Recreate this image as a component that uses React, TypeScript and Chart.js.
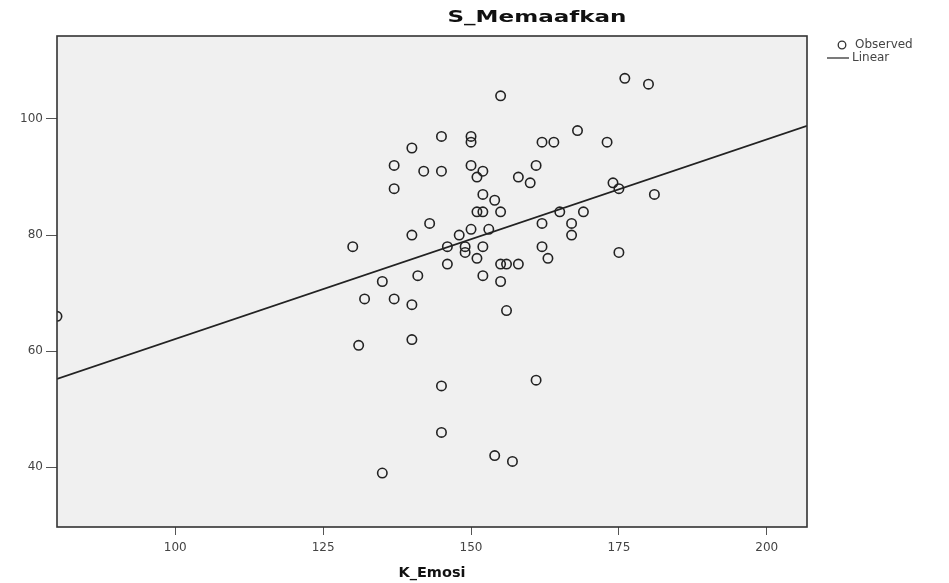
import React, { useEffect, useRef } from "react";
import { Chart, registerables } from "chart.js";

Chart.register(...registerables);

// K_Emosi (x) values of the observed points
const kEmosi = [
  80, 176, 180, 155, 168, 145, 150, 150, 140, 162, 164, 173,
  137, 142, 145, 150, 152, 151, 161, 158, 160, 137, 174, 175,
  181, 152, 154, 151, 152, 155, 165, 169, 143, 162, 167, 167,
  140, 148, 150, 153, 130, 146, 149, 152, 162, 149, 151, 163,
  175, 146, 155, 156, 158, 141, 152, 135, 155, 132, 137, 140,
  156, 131, 140, 161, 145, 145, 154, 157, 135,
];
// S_Memaafkan (y) values of the observed points
const sMemaafkan = [
  66, 107, 106, 104, 98, 97, 97, 96, 95, 96, 96, 96,
  92, 91, 91, 92, 91, 90, 92, 90, 89, 88, 89, 88,
  87, 87, 86, 84, 84, 84, 84, 84, 82, 82, 82, 80,
  80, 80, 81, 81, 78, 78, 78, 78, 78, 77, 76, 76,
  77, 75, 75, 75, 75, 73, 73, 72, 72, 69, 69, 68,
  67, 61, 62, 55, 54, 46, 42, 41, 39,
];

const xTicks = [100, 125, 150, 175, 200];
const yTicks = [40, 60, 80, 100];
const xRange = [80, 206.8];
const yRange = [29.7, 114.3];

// Linear fit
const fitIntercept = 27.7;
const fitSlope = 0.344;

const chartTitle = "S_Memaafkan";
const xTitle = "K_Emosi";
const legendLabels = ["Observed", "Linear"];

function drawStretched(ctx: CanvasRenderingContext2D, text: string, cx: number, cy: number, font: string, width: number, color: string) {
  ctx.save();
  ctx.font = font;
  ctx.fillStyle = color;
  ctx.textBaseline = "middle";
  ctx.textAlign = "left";
  const w = ctx.measureText(text).width;
  const s = width / w;
  ctx.translate(cx - width / 2, cy);
  ctx.scale(s, 1);
  ctx.fillText(text, 0, 0);
  ctx.restore();
}

const framePlugin = {
  id: "frame",
  beforeDraw(chart: any) {
    const { ctx, chartArea: a } = chart;
    ctx.save();
    ctx.fillStyle = "#ffffff";
    ctx.fillRect(0, 0, chart.width, chart.height);
    ctx.fillStyle = "#f0f0f0";
    ctx.fillRect(a.left, a.top, a.right - a.left, a.bottom - a.top);
    ctx.restore();
  },
  afterDraw(chart: any) {
    const { ctx, chartArea: a } = chart;
    ctx.save();
    ctx.strokeStyle = "#333333";
    ctx.lineWidth = 1.6;
    ctx.strokeRect(a.left, a.top, a.right - a.left, a.bottom - a.top);
    ctx.restore();

    const midX = (a.left + a.right) / 2;
    drawStretched(ctx, chartTitle, 537, 18, "bold 16px 'DejaVu Sans'", 179, "#111");
    drawStretched(ctx, xTitle, midX, 573, "bold 14px 'DejaVu Sans'", 67, "#111");

    // legend
    ctx.save();
    ctx.strokeStyle = "#333";
    ctx.lineWidth = 1.3;
    ctx.beginPath();
    ctx.arc(842, 45, 3.8, 0, Math.PI * 2);
    ctx.stroke();
    ctx.beginPath();
    ctx.moveTo(827, 58);
    ctx.lineTo(849, 58);
    ctx.stroke();
    ctx.restore();
    ctx.save();
    ctx.font = "12px 'DejaVu Sans'";
    ctx.fillStyle = "#444";
    ctx.textBaseline = "middle";
    ctx.fillText(legendLabels[0], 855, 45);
    ctx.fillText(legendLabels[1], 852, 58);
    ctx.restore();
  },
};

export default function App() {
  const ref = useRef<HTMLCanvasElement | null>(null);
  useEffect(() => {
    document.body.style.margin = "0";
    const canvas = ref.current!;
    const points = kEmosi.map((x, i) => ({ x, y: sMemaafkan[i] }));
    const fitLine = xRange.map((x) => ({ x, y: fitIntercept + fitSlope * x }));
    const chart = new Chart(canvas, {
      type: "scatter",
      data: {
        datasets: [
          {
            label: legendLabels[0],
            data: points,
            pointStyle: "circle",
            pointRadius: 4.7,
            pointBorderWidth: 1.6,
            borderColor: "#222",
            backgroundColor: "rgba(0,0,0,0)",
            pointBackgroundColor: "rgba(0,0,0,0)",
            clip: 0,
          } as any,
          {
            label: legendLabels[1],
            type: "line",
            data: fitLine,
            showLine: true,
            borderColor: "#222",
            borderWidth: 1.7,
            pointRadius: 0,
            fill: false,
            clip: 0,
          } as any,
        ],
      },
      options: {
        responsive: false,
        animation: false,
        layout: { padding: { left: 0, top: 36, right: 142, bottom: 0 } },
        plugins: {
          legend: { display: false },
          title: { display: false },
          tooltip: { enabled: false },
        },
        scales: {
          x: {
            type: "linear",
            min: xRange[0],
            max: xRange[1],
            afterBuildTicks: (s: any) => {
              s.ticks = xTicks.map((v) => ({ value: v }));
            },
            afterFit: (s: any) => {
              s.height = 56;
            },
            grid: { display: true, drawOnChartArea: false, drawTicks: true, tickLength: 8, color: "#555", lineWidth: 1 },
            border: { display: false },
            ticks: { color: "#444", font: { size: 12, family: "'DejaVu Sans'" }, padding: 6, maxRotation: 0 },
          },
          y: {
            type: "linear",
            min: yRange[0],
            max: yRange[1],
            afterBuildTicks: (s: any) => {
              s.ticks = yTicks.map((v) => ({ value: v }));
            },
            afterFit: (s: any) => {
              s.width = 57;
            },
            grid: { display: true, drawOnChartArea: false, drawTicks: true, tickLength: 11, color: "#555", lineWidth: 1 },
            border: { display: false },
            ticks: { color: "#444", font: { size: 12, family: "'DejaVu Sans'" }, padding: 3 },
          },
        },
      },
      plugins: [framePlugin],
    });
    return () => chart.destroy();
  }, []);
  return (
    <div style={{ position: "fixed", left: 0, top: 0, width: 949, height: 583, background: "#fff" }}>
      <canvas ref={ref} width={949} height={583} style={{ display: "block" }} />
    </div>
  );
}
